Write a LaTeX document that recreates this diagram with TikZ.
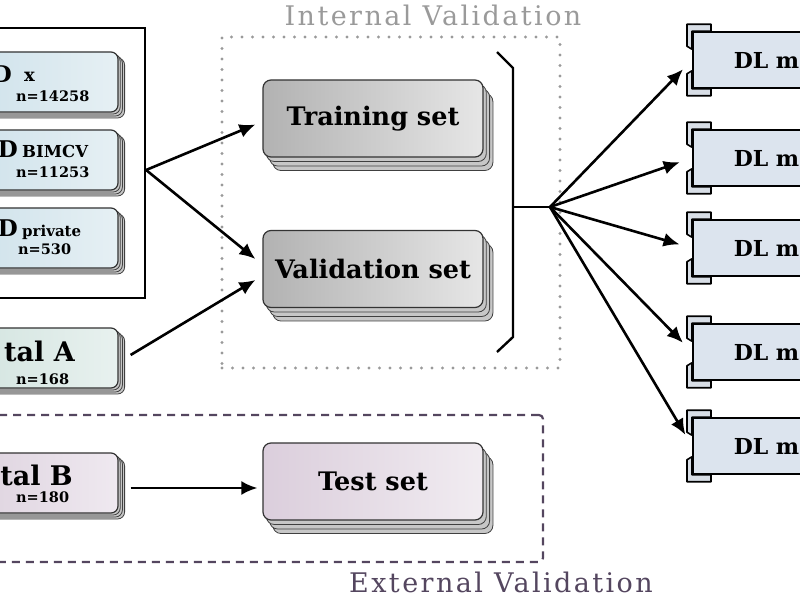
\documentclass[tikz,border=0pt]{standalone}
\usepackage{fontspec}
\setmainfont{DejaVu Serif}
\newfontfamily\titlefont[LetterSpace=9]{DejaVu Serif}
\usetikzlibrary{arrows.meta,shadows}

\definecolor{srcblue}{HTML}{CADFE9}
\definecolor{srcbluelight}{HTML}{E6F0F4}
\definecolor{hospgreen}{HTML}{CFE2DD}
\definecolor{hospgreenlight}{HTML}{E8F1EF}
\definecolor{hosppink}{HTML}{DACEDB}
\definecolor{hosppinklight}{HTML}{EFE9F0}
\definecolor{setgray}{HTML}{B2B2B2}
\definecolor{setgraylight}{HTML}{E6E6E6}
\definecolor{testpink}{HTML}{DBCEDC}
\definecolor{testpinklight}{HTML}{F1ECF1}
\definecolor{modelblue}{HTML}{DCE4EE}
\definecolor{tabgray}{HTML}{D8DEE6}
\definecolor{extpurple}{HTML}{54465F}
\definecolor{intgray}{HTML}{9A9A9A}

\tikzset{
  layer/.style={fill=black!22,draw=black!75,line width=0.8pt},
  srcbox/.style={draw=black!80,line width=1.2pt,rounded corners=7pt,
    minimum width=178pt,minimum height=60pt,inner sep=0pt,
    copy shadow={shadow xshift=6.6pt,shadow yshift=-6pt,layer},
    copy shadow={shadow xshift=4.4pt,shadow yshift=-4pt,layer},
    copy shadow={shadow xshift=2.2pt,shadow yshift=-2pt,layer}},
  setbox/.style={draw=black!80,line width=1.2pt,rounded corners=8pt,
    minimum width=220pt,minimum height=77pt,inner sep=0pt,
    font=\bfseries\fontsize{25.5}{30}\selectfont,
    copy shadow={shadow xshift=9.9pt,shadow yshift=-13.5pt,layer},
    copy shadow={shadow xshift=6.6pt,shadow yshift=-9pt,layer},
    copy shadow={shadow xshift=3.3pt,shadow yshift=-4.5pt,layer}},
  dlbox/.style={draw=black,line width=1.5pt,fill=modelblue,anchor=west,
    minimum height=56pt,inner xsep=41pt,
    font=\bfseries\fontsize{22}{26}\selectfont},
  dltab/.style={draw=black,line width=1.6pt,fill=tabgray,line join=round},
  bigD/.style={inner sep=0pt,font=\bfseries\fontsize{23}{27}\selectfont},
  subtxt/.style={inner sep=0pt,font=\bfseries\fontsize{16.5}{19}\selectfont},
  ntxt/.style={inner sep=0pt,font=\bfseries\fontsize{14.5}{17}\selectfont},
  hosptxt/.style={inner sep=0pt,font=\bfseries\fontsize{27}{31}\selectfont},
  arrow/.style={line width=2.6pt,-{Latex[length=16pt,width=14pt]}},
}

\begin{document}
\begin{tikzpicture}[x=1pt,y=1pt]
\useasboundingbox (0,0) rectangle (800,600);
\clip (0,0) rectangle (800,600);

% source data sets
\node[draw=black,line width=2.2pt,minimum width=155pt,minimum height=270pt] (sources) at (67.5,437) {};
\node[srcbox,left color=srcblue,right color=srcbluelight] (dx) at (29,518) {};
\node[bigD,anchor=base east] (dxD) at (12,517) {D};
\node[subtxt,anchor=base west,font=\bfseries\fontsize{18}{21}\selectfont] (dxsub) at (24,518) {x};
\node[ntxt,anchor=base west] (dxn) at (16,498) {n=14258};

\node[srcbox,left color=srcblue,right color=srcbluelight] (bimcv) at (29,440) {};
\node[bigD,anchor=base east] (bimcvD) at (18,442) {D};
\node[subtxt,anchor=base west] (bimcvsub) at (22,442) {BIMCV};
\node[ntxt,anchor=base west] (bimcvn) at (16,422) {n=11253};

\node[srcbox,left color=srcblue,right color=srcbluelight] (priv) at (29,362) {};
\node[bigD,anchor=base east] (privD) at (18,363) {D};
\node[subtxt,anchor=base west,font=\bfseries\fontsize{15}{18}\selectfont] (privsub) at (22,363) {private};
\node[ntxt,anchor=base west] (privn) at (18,345) {n=530};

% hospitals
\node[srcbox,left color=hospgreen,right color=hospgreenlight] (hospA) at (29,242) {};
\node[hosptxt,anchor=base east] (hospAtxt) at (75,238) {tal A};
\node[ntxt,anchor=base west] (hospAn) at (16,215) {n=168};

\node[srcbox,left color=hosppink,right color=hosppinklight] (hospB) at (29,117) {};
\node[hosptxt,anchor=base east] (hospBtxt) at (73,115) {tal B};
\node[ntxt,anchor=base west] (hospBn) at (16,98) {n=180};

% validation frames
\node[draw=intgray,line width=3.2pt,dash pattern=on 0pt off 10.5pt,line cap=round,
  minimum width=338pt,minimum height=331pt] (internal) at (391,397.5) {};
\node[text=intgray,font=\titlefont\fontsize{27}{32}\selectfont] (intlabel) at (433,585) {Internal Validation};
\node[draw=extpurple,line width=2.2pt,dash pattern=on 8pt off 6pt,rounded corners=4pt,
  minimum width=553pt,minimum height=147pt] (external) at (266.5,111.5) {};
\node[text=extpurple,font=\titlefont\fontsize{27}{32}\selectfont] (extlabel) at (501,18) {External Validation};

% sets
\node[setbox,left color=setgray,right color=setgraylight] (train) at (373,481.5) {Training set};
\node[setbox,left color=setgray,right color=setgraylight] (val) at (373,331) {Validation set};
\node[setbox,left color=testpink,right color=testpinklight] (test) at (373,118.5) {Test set};

\draw[arrow] ([yshift=-7pt]sources.east) -- ([xshift=-7pt,yshift=-6pt]train.west);
\draw[arrow] ([yshift=-7pt]sources.east) -- ([xshift=-7pt,yshift=10pt]val.west);
\draw[arrow] ([xshift=12pt,yshift=3pt]hospA.east) -- ([xshift=-7pt,yshift=-11pt]val.west);
\draw[arrow] ([xshift=12pt,yshift=-5pt]hospB.east) -- ([xshift=-5pt,yshift=-6.5pt]test.west);

% bracket and models
\coordinate (brtop) at (513,532);
\coordinate (brbot) at (513,263);
\coordinate (brmid) at (513,393);
\coordinate (hub) at (550,393);
\draw[line width=2.4pt] (497,548) -- (brtop) -- (brbot) -- (497,248);
\draw[line width=2.4pt] (brmid) -- (hub);

\foreach \n/\y in {1/540,2/442,3/352,4/248,5/154}{
  \node[dlbox] (dl\n) at (692,\y) {DL m};
  \draw[dltab] ([yshift=-18pt]dl\n.north west) -- ++(-5,3) -- ++(0,22) -- ++(24,0) -- ++(0,-7) -- (dl\n.north west) -- cycle;
  \draw[dltab] ([yshift=18pt]dl\n.south west) -- ++(-5,-3) -- ++(0,-22) -- ++(24,0) -- ++(0,7) -- (dl\n.south west) -- cycle;
  \draw[arrow,shorten >=13pt] (hub) -- (dl\n.west);
}
\end{tikzpicture}
\end{document}
